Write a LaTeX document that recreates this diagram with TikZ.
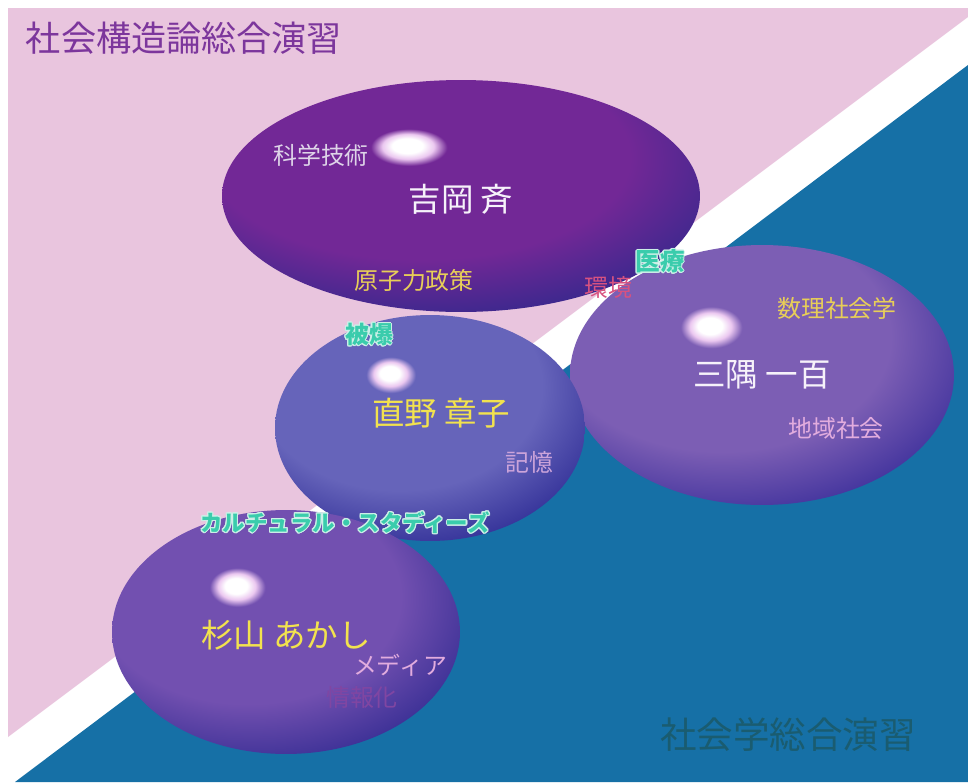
\documentclass[tikz,border=0pt]{standalone}
\usepackage{fontspec}
\usepackage{contour}
\usetikzlibrary{shapes.geometric}
\newfontfamily\jp{Noto Sans CJK JP}
\contourlength{0.6pt}
\contournumber{16}

\definecolor{pinkbg}{RGB}{233,197,222}
\definecolor{bluebg}{RGB}{22,112,166}
\definecolor{glowpink}{RGB}{235,200,240}
\definecolor{yoshiokabase}{RGB}{114,40,150}
\definecolor{yoshiokaedge}{RGB}{52,40,140}
\definecolor{misumibase}{RGB}{124,94,180}
\definecolor{misumiedge}{RGB}{58,46,154}
\definecolor{naonobase}{RGB}{102,100,186}
\definecolor{naonoedge}{RGB}{42,40,146}
\definecolor{sugiyamabase}{RGB}{114,80,176}
\definecolor{sugiyamaedge}{RGB}{52,44,146}
\definecolor{namewhite}{RGB}{246,242,250}
\definecolor{nameyellow}{RGB}{242,226,78}
\definecolor{tagyellow}{RGB}{232,206,88}
\definecolor{taggray}{RGB}{222,212,232}
\definecolor{tagpink}{RGB}{226,172,222}
\definecolor{taglilac}{RGB}{204,164,218}
\definecolor{tagred}{RGB}{216,82,128}
\definecolor{tagdark}{RGB}{128,70,162}
\definecolor{tagteal}{RGB}{58,204,172}
\definecolor{tealrim}{RGB}{205,240,232}
\definecolor{titlepurple}{RGB}{124,54,156}
\definecolor{titleteal}{RGB}{26,92,112}

\pgfdeclareradialshading{yoshiokashade}{\pgfpoint{-5.7bp}{11bp}}{color(0bp)=(white); color(1.6bp)=(white); color(2.7bp)=(glowpink); color(4bp)=(yoshiokabase); color(22bp)=(yoshiokabase); color(35bp)=(yoshiokaedge); color(90bp)=(yoshiokaedge)}
\pgfdeclareradialshading{misumishade}{\pgfpoint{-6.9bp}{9.6bp}}{color(0bp)=(white); color(1.6bp)=(white); color(2.7bp)=(glowpink); color(4bp)=(misumibase); color(22bp)=(misumibase); color(35bp)=(misumiedge); color(90bp)=(misumiedge)}
\pgfdeclareradialshading{naonoshade}{\pgfpoint{-6.6bp}{12.3bp}}{color(0bp)=(white); color(1.6bp)=(white); color(2.7bp)=(glowpink); color(4bp)=(naonobase); color(23bp)=(naonobase); color(37bp)=(naonoedge); color(90bp)=(naonoedge)}
\pgfdeclareradialshading{sugiyamashade}{\pgfpoint{-7.3bp}{9.6bp}}{color(0bp)=(white); color(1.6bp)=(white); color(2.7bp)=(glowpink); color(4bp)=(sugiyamabase); color(22bp)=(sugiyamabase); color(35bp)=(sugiyamaedge); color(90bp)=(sugiyamaedge)}

\begin{document}
\begin{tikzpicture}
  [x=0.02cm, y=-0.02cm,
   every node/.style={font=\jp, inner sep=0},
   blob/.style={ellipse, inner sep=0},
   person/.style={font=\jp\fontsize{18.5}{20}\selectfont},
   tag/.style={font=\jp\fontsize{13.6}{15}\selectfont},
   tealtag/.style={font=\jp\bfseries\fontsize{12.8}{14}\selectfont, text=tagteal}]

  \useasboundingbox (0,0) rectangle (968,782);
  \fill[white] (0,0) rectangle (968,782);
  \fill[pinkbg] (8,8) -- (968,8) -- (968,17) -- (8,737) -- cycle;
  \fill[bluebg] (15,782) -- (968,65) -- (968,782) -- cycle;

  % titles
  \node[font=\jp\fontsize{20}{22}\selectfont, text=titlepurple] (kouzou) at (184,38) {社会構造論総合演習};
  \node[font=\jp\fontsize{20.8}{22}\selectfont, text=titleteal] (shakaigaku) at (788,735) {社会学総合演習};

  % ellipses
  \node[blob, shading=yoshiokashade, minimum width=9.56cm, minimum height=4.64cm] (yoshioka) at (461,196) {};
  \node[blob, shading=misumishade, minimum width=7.68cm, minimum height=5.2cm] (misumi) at (762,375) {};
  \node[blob, shading=naonoshade, minimum width=6.2cm, minimum height=4.52cm] (naono) at (430,428) {};
  \node[blob, shading=sugiyamashade, minimum width=6.96cm, minimum height=4.88cm] (sugiyama) at (286,632) {};

  % names
  \node[person, text=namewhite] (yoshiokaname) at (461,199) {吉岡 斉};
  \node[person, text=namewhite] (misuminame) at (762,375) {三隅 一百};
  \node[person, text=nameyellow] (naononame) at (441,413) {直野 章子};
  \node[person, text=nameyellow] (sugiyamaname) at (286,635) {杉山 あかし};

  % topics
  \node[tag, text=taggray] (kagaku) at (321,155) {科学技術};
  \node[tag, text=tagyellow] (genshiryoku) at (414,280) {原子力政策};
  \node[tag, text=tagred] (kankyou) at (608,287) {環境};
  \node[tag, text=tagyellow] (suuri) at (837,308) {数理社会学};
  \node[tag, text=tagpink] (chiiki) at (836,428) {地域社会};
  \node[tag, text=taglilac] (kioku) at (529,462) {記憶};
  \node[tag, text=tagpink] (media) at (400,665) {メディア};
  \node[tag, text=tagdark] (jouhou) at (362,697) {情報化};
  \node[tealtag, font=\jp\bfseries\fontsize{14}{15}\selectfont] (iryou) at (660,262) {\contour{tealrim}{医療}};
  \node[tealtag, font=\jp\bfseries\fontsize{13.6}{15}\selectfont] (hibaku) at (369,335) {\contour{tealrim}{被爆}};
  \node[tealtag] (cultural) at (345,523) {\contour{tealrim}{カルチュラル・スタディーズ}};
\end{tikzpicture}
\end{document}
